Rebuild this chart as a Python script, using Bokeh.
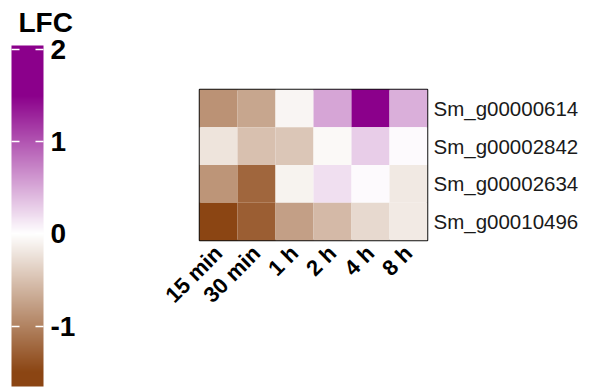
import numpy as np
from bokeh.plotting import figure
from bokeh.models import (ColumnDataSource, LinearColorMapper, ColorBar, FixedTicker, FactorRange,
                          PrintfTickFormatter, Title)
from bokeh.embed import file_html
from bokeh.resources import INLINE

# ---------------- data ----------------
times = ["15 min", "30 min", "1 h", "2 h", "4 h", "8 h"]
genes = ["Sm_g00000614", "Sm_g00002842", "Sm_g00002634", "Sm_g00010496"]
lfc_g00000614 = [-0.88, -0.72, -0.08, 0.53, 2.04, 0.47]
lfc_g00002842 = [-0.22, -0.51, -0.46, -0.05, 0.29, 0.03]
lfc_g00002634 = [-0.86, -1.23, -0.10, 0.19, 0.03, -0.18]
lfc_g00010496 = [-1.66, -1.30, -0.77, -0.56, -0.31, -0.17]
cbar_ticks = [-1, 0, 1, 2]
cbar_title = "LFC"

rows = [lfc_g00000614, lfc_g00002842, lfc_g00002634, lfc_g00010496]
xs, ys, vs = [], [], []
for g, r in zip(genes, rows):
    for t, v in zip(times, r):
        xs.append(t); ys.append(g); vs.append(v)
src = ColumnDataSource(dict(x=xs, y=ys, v=vs))

# ---------------- colour scale ----------------
BROWN = np.array([139, 69, 19], float)
WHITE = np.array([255, 255, 255], float)
PURPLE = np.array([139, 0, 139], float)
SAT = 1.5
LOW, HIGH = -1.655, 2.043
N = 512
centers = LOW + (np.arange(N) + 0.5) * (HIGH - LOW) / N
pal = []
for c in centers:
    t = min(abs(c) / SAT, 1.0)
    end = BROWN if c < 0 else PURPLE
    col = WHITE + t * (end - WHITE)
    pal.append("#%02x%02x%02x" % tuple(int(round(k)) for k in col))
mapper = LinearColorMapper(palette=pal, low=LOW, high=HIGH,
                           low_color="#8b4513", high_color="#8b008b")

FONT = "Liberation Sans"

# ---------------- heatmap ----------------
p = figure(x_range=FactorRange(*times), y_range=FactorRange(*reversed(genes)),
           frame_width=228, frame_height=151,
           min_border_left=199, min_border_top=89, min_border_bottom=148, min_border_right=5,
           y_axis_location="right", output_backend="svg", toolbar_location=None, tools="")
p.rect(x="x", y="y", width=1, height=1, source=src,
       fill_color={"field": "v", "transform": mapper}, line_color=None)
p.grid.visible = False
p.outline_line_color = "#111111"
p.outline_line_width = 1.5
p.axis.axis_line_color = None
p.axis.major_tick_line_color = None
p.axis.minor_tick_line_color = None
p.xaxis.major_label_orientation = np.pi / 4
p.xaxis.major_label_text_font_size = "22px"
p.xaxis.major_label_text_font_style = "bold"
p.xaxis.major_label_text_color = "black"
p.xaxis.major_label_text_font = FONT
p.xaxis.major_label_standoff = 3
p.yaxis.major_label_text_font_size = "20.5px"
p.yaxis.major_label_text_color = "#1a1a1a"
p.yaxis.major_label_text_font = FONT
p.yaxis.major_label_standoff = 0

# ---------------- colour bar ----------------
cb = ColorBar(color_mapper=mapper, ticker=FixedTicker(ticks=cbar_ticks),
              formatter=PrintfTickFormatter(format="%d"),
              location=(-188, -146), width=32, height=341, padding=0,
              major_label_text_font_size="28px", major_label_text_font_style="bold",
              major_label_text_font=FONT, major_label_text_color="black",
              label_standoff=7,
              major_tick_line_color="white", major_tick_line_width=1.5,
              major_tick_in=32, major_tick_out=0, major_tick_line_dash="8 16 8",
              minor_tick_line_color=None, bar_line_color=None,
              border_line_color=None, background_fill_color=None)
p.add_layout(cb, "center")
# spacer panel between the frame and the colour-bar title
p.add_layout(Title(text=" ", text_font_size="16px", standoff=33), "above")
# colour-bar title, as a plot title shifted to the left of the frame
p.add_layout(Title(text=cbar_title, align="left", offset=-181, standoff=0,
                   text_font=FONT, text_font_size="28px", text_font_style="bold",
                   text_color="black"), "above")

open("out.html", "w").write(file_html(p, INLINE))
